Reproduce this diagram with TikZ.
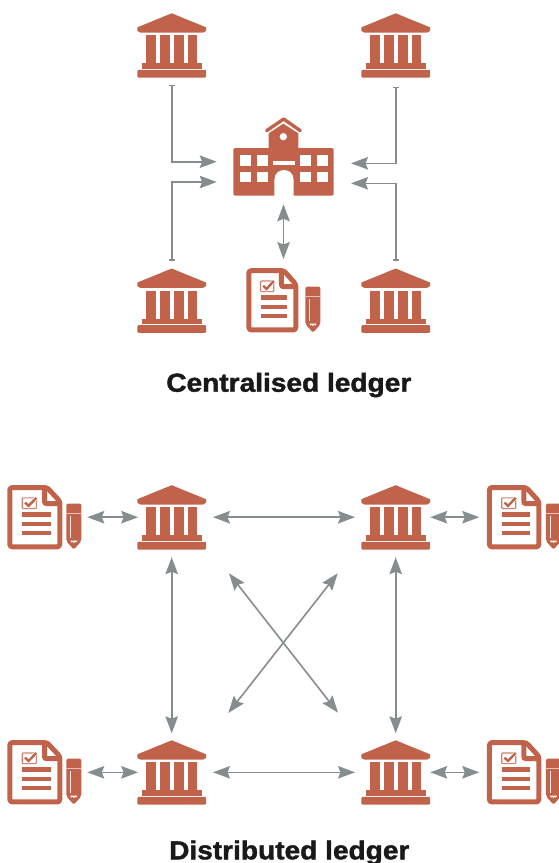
\documentclass[tikz,border=0pt]{standalone}
\usepackage{fontspec}
\setmainfont{Liberation Sans}
\newfontfamily\headfont[FakeBold=1.5,FakeStretch=1.08]{Liberation Sans Bold}
\usetikzlibrary{arrows.meta}
\definecolor{brick}{HTML}{C1634A}
\definecolor{arrowgray}{HTML}{868D8E}
\tikzset{
  x=1pt,y=-1pt,
  bankbox/.style={minimum width=69pt,minimum height=80pt,inner sep=0pt,outer sep=0pt},
  docbox/.style={minimum width=74pt,minimum height=64pt,inner sep=0pt,outer sep=0pt},
  schoolbox/.style={minimum width=100.4pt,minimum height=78pt,inner sep=0pt,outer sep=0pt},
  conn/.style={draw=arrowgray,line width=1.6pt},
  headtip/.tip={Stealth[length=17pt,width=12.5pt,inset=2.5pt,color=arrowgray]},
  bartip/.tip={Bar[width=6pt,line width=1.1pt,color=arrowgray]},
  two/.style={conn,{headtip}-{headtip}},
  feed/.style={conn,{bartip}-{headtip}},
  title/.style={anchor=base,inner sep=0pt,text=black!90,font=\fontsize{26}{26}\headfont},
  pics/bank/.style={code={
    \begin{scope}[shift={(-41.67,-45.33)},scale=.3333]
      \fill[brick] (125,40)--(228,82)--(228,93)--(219,98)--(31,98)--(22,93)--(22,82)--cycle;
      \foreach \c in {49,91,132,173}{\fill[brick] (\c,106) rectangle ++(28.5,85);}
      \fill[brick] (36,190) rectangle (216,206);
      \fill[brick,rounded corners=1pt] (22,210) rectangle (228,233);
    \end{scope}}},
  pics/school/.style={code={
    \begin{scope}[shift={(-123.5,-76.67)},scale=.3333]
      \fill[brick,rounded corners=1.5pt] (220,347)--(220,204)--(521,204)--(521,347)--cycle;
      \fill[brick] (326,206)--(326,160)--(370,131)--(415,160)--(415,206)--cycle;
      \draw[brick,line width=3.4pt,line cap=round,line join=round] (320,152)--(371,117)--(421,152);
      \fill[white] (370,170) circle (11);
      \foreach \c in {240,291,421,471}{
        \fill[white] (\c,225) rectangle ++(32,32);
        \fill[white] (\c,275) rectangle ++(32,31);}
      \fill[white] (340,243) rectangle (404,256);
      \fill[white] (343,348)--(343,300) .. controls (343,260) and (401,260) .. (401,300)--(401,348)--cycle;
    \end{scope}}},
  pics/docpen/.style={code={
    \begin{scope}[xscale=#1,scale=.3333]
      \draw[brick,line width=5pt,rounded corners=2.5pt,line join=round] (7,7)--(112,7)--(148,48)--(148,185)--(7,185)--cycle;
      \draw[brick,line width=5pt,rounded corners=2pt] (105,8)--(105,55)--(150,55);
      \draw[brick!80,line width=1.2pt,rounded corners=1pt] (42,38) rectangle (82,70);
      \draw[white,line width=3.6pt] (50,52)--(60,62)--(82,38);
      \draw[brick,line width=2.4pt] (50,52)--(60,62)--(82,38);
      \foreach \r in {88,116,143}{\draw[brick,line width=4.6pt] (42,\r)--(123,\r);}
    \end{scope}
    \begin{scope}[scale=.3333]
      \fill[brick,rounded corners=2pt] (177,168)--(177,55)--(222,55)--(222,168)--(199.5,193)--cycle;
      \draw[white!60!brick,line width=.6pt] (177,84)--(222,84);
      \draw[white!85!brick,line width=.8pt] (190,92)--(190,158);
      \fill[white] (189,166)--(210,166)--(207,172)--(203,169)--(199.5,174)--(196,169)--(192,172)--cycle;
    \end{scope}}}
}
\begin{document}
\begin{tikzpicture}
\useasboundingbox (0,0) rectangle (558,863);
% centralised ledger
\node[bankbox] (b1) at (171.7,45.3) {};
\node[bankbox] (b2) at (395.7,45.3) {};
\node[bankbox] (b3) at (171.7,300.5) {};
\node[bankbox] (b4) at (395.7,300.5) {};
\node[schoolbox] (c) at (283.5,156.7) {};
\node[docbox] (d0) at (283.5,300.3) {};
\pic at (b1.center) {bank};
\pic at (b2.center) {bank};
\pic at (b3.center) {bank};
\pic at (b4.center) {bank};
\pic at (c.center) {school};
\pic at (d0.north west) {docpen=1};
\coordinate (s1) at (216.7,161.7);
\coordinate (s2) at (216.7,182);
\coordinate (s3) at (351,163.3);
\coordinate (s4) at (351,183.3);
\draw[feed] (b1.south) |- (s1);
\draw[feed] (b3.north) |- (s2);
\draw[feed,shorten <=1.4pt] (b2.south) |- (s3);
\draw[feed] (b4.north) |- (s4);
\draw[two,shorten <=8.6pt,shorten >=9.3pt] (c.south) -- (d0.north);
\node[title] (t1) at (288.8,391.7) {Centralised ledger};
% distributed ledger
\node[bankbox] (b5) at (171.7,517.2) {};
\node[bankbox] (b6) at (395.7,517.2) {};
\node[bankbox] (b7) at (171.7,772.3) {};
\node[bankbox] (b8) at (395.7,772.3) {};
\node[docbox] (d1) at (44.3,517.2) {};
\node[docbox] (d2) at (524,517.2) {};
\node[docbox] (d3) at (44.3,772.3) {};
\node[docbox] (d4) at (524,772.3) {};
\pic at (b5.center) {bank};
\pic at (b6.center) {bank};
\pic at (b7.center) {bank};
\pic at (b8.center) {bank};
\pic at (d1.north west) {docpen=1.064};
\pic at (d2.north west) {docpen=1.05};
\pic at (d3.north west) {docpen=1.064};
\pic at (d4.north west) {docpen=1.05};
\draw[two,shorten <=6pt,shorten >=-1pt] (d1.east) -- (b5.west);
\draw[two,shorten <=6pt,shorten >=-1pt] (d3.east) -- (b7.west);
\draw[two,shorten >=7.7pt] (b6.east) -- (d2.west);
\draw[two,shorten >=7.7pt] (b8.east) -- (d4.west);
\draw[two,shorten <=6.8pt,shorten >=6.2pt] (b5.east) -- (b6.west);
\draw[two,shorten <=6.8pt,shorten >=6.2pt] (b7.east) -- (b8.west);
\draw[two,shorten >=-1pt] (b5.south) -- (b7.north);
\draw[two,shorten >=-1pt] (b6.south) -- (b8.north);
\coordinate (x1) at (229,573.3);
\coordinate (x2) at (338,712.7);
\coordinate (x3) at (337.7,573.3);
\coordinate (x4) at (228.3,713);
\draw[two] (x1) -- (x2);
\draw[two] (x3) -- (x4);
\node[title] (t2) at (289.3,859.3) {Distributed ledger};
\end{tikzpicture}
\end{document}
